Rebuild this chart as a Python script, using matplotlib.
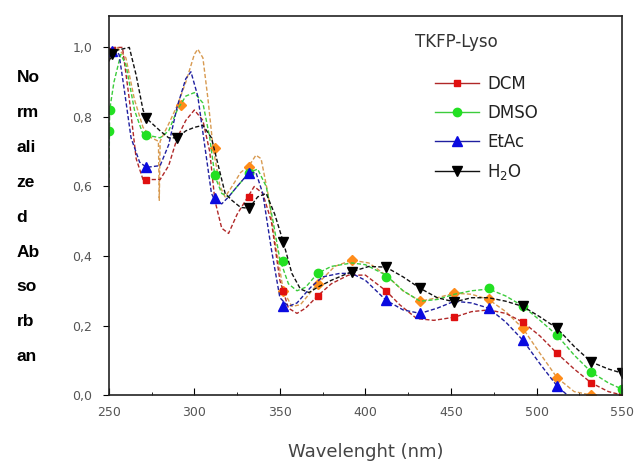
import matplotlib
matplotlib.use("Agg")
import matplotlib.pyplot as plt
from matplotlib.lines import Line2D
from matplotlib.ticker import MultipleLocator, FuncFormatter

# ---- spectra (wavelength nm, normalized absorbance) ----
dcm_x = [250, 253, 258, 262, 266, 270, 280, 285, 290, 295, 300, 305, 309, 312, 316, 320, 325, 330, 335,
         340, 345, 350, 355, 360, 365, 372, 380, 390, 400, 412, 420, 430, 440, 452, 462, 472, 482, 492,
         502, 512, 522, 532, 542, 550]
dcm_y = [0.96, 1.0, 1.0, 0.85, 0.68, 0.62, 0.62, 0.66, 0.74, 0.79, 0.82, 0.79, 0.70, 0.56, 0.48, 0.465,
         0.52, 0.56, 0.60, 0.58, 0.50, 0.33, 0.25, 0.235, 0.25, 0.285, 0.32, 0.345, 0.345, 0.30, 0.26,
         0.22, 0.215, 0.224, 0.24, 0.245, 0.235, 0.21, 0.17, 0.12, 0.075, 0.035, 0.01, 0.0]

dmso_x = [250, 250.5, 253, 257, 260, 265, 270, 280, 285, 290, 295, 300, 305, 309, 312, 316, 320, 325, 332,
          337, 342, 346, 350, 355, 360, 365, 372, 380, 392, 400, 412, 422, 432, 442, 452, 462, 472, 482,
          492, 502, 512, 522, 532, 542, 550]
dmso_y = [0.57, 0.82, 0.90, 0.98, 0.95, 0.82, 0.75, 0.74, 0.76, 0.82, 0.86, 0.87, 0.84, 0.74, 0.63, 0.58,
          0.57, 0.60, 0.64, 0.65, 0.60, 0.50, 0.39, 0.32, 0.30, 0.31, 0.35, 0.37, 0.38, 0.375, 0.345, 0.30,
          0.27, 0.275, 0.29, 0.30, 0.305, 0.285, 0.256, 0.215, 0.172, 0.115, 0.066, 0.035, 0.017]

etac_x = [250, 252, 256, 259, 263, 268, 272, 280, 285, 290, 295, 298, 302, 306, 310, 312, 316, 320, 325,
          332, 336, 340, 345, 350, 355, 360, 368, 375, 385, 392, 400, 412, 422, 432, 442, 452, 462, 472,
          482, 492, 502, 512, 518]
etac_y = [0.97, 1.0, 0.98, 0.88, 0.74, 0.67, 0.655, 0.66, 0.72, 0.83, 0.91, 0.93, 0.86, 0.72, 0.58, 0.56,
          0.55, 0.57, 0.60, 0.64, 0.64, 0.58, 0.42, 0.28, 0.255, 0.265, 0.31, 0.34, 0.35, 0.35, 0.33, 0.273,
          0.245, 0.235, 0.25, 0.27, 0.265, 0.25, 0.21, 0.158, 0.09, 0.026, 0.0]

h2o_x = [250, 253, 262, 266, 270, 272, 280, 285, 290, 295, 300, 305, 310, 314, 318, 322, 327, 332, 337,
         342, 347, 352, 357, 362, 367, 372, 380, 392, 402, 412, 422, 432, 442, 452, 462, 472, 482, 492,
         502, 512, 522, 532, 542, 550]
h2o_y = [0.96, 0.99, 1.0, 0.92, 0.82, 0.796, 0.76, 0.74, 0.74, 0.76, 0.77, 0.776, 0.74, 0.66, 0.58, 0.56,
         0.54, 0.537, 0.57, 0.58, 0.52, 0.44, 0.35, 0.305, 0.295, 0.31, 0.33, 0.355, 0.37, 0.368, 0.34,
         0.307, 0.28, 0.268, 0.28, 0.28, 0.27, 0.255, 0.225, 0.192, 0.14, 0.095, 0.075, 0.063]

org_x = [250, 255, 260, 265, 270, 275, 279, 279.5, 280, 285, 290, 295, 300, 302, 305, 308, 311, 315, 318,
         322, 327, 332, 336, 339, 343, 347, 352, 357, 362, 372, 382, 392, 402, 412, 422, 432, 442, 452,
         462, 472, 482, 492, 502, 512, 522, 532]
org_y = [0.97, 1.0, 0.97, 0.85, 0.77, 0.74, 0.73, 0.56, 0.73, 0.78, 0.833, 0.90, 0.98, 0.995, 0.97, 0.85,
         0.71, 0.60, 0.57, 0.60, 0.64, 0.66, 0.69, 0.68, 0.58, 0.45, 0.30, 0.255, 0.26, 0.32, 0.37, 0.388,
         0.38, 0.345, 0.30, 0.27, 0.28, 0.293, 0.29, 0.275, 0.24, 0.192, 0.12, 0.05, 0.01, 0.0]

# ---- symbol positions ----
dcm_mx = [252, 272, 332, 352, 372, 412, 452, 492, 512, 532, 550]
dcm_my = [0.99, 0.62, 0.57, 0.30, 0.285, 0.30, 0.224, 0.21, 0.12, 0.035, 0.0]
dmso_mx = [250, 250.5, 272, 312, 332, 352, 372, 412, 472, 492, 512, 532, 550]
dmso_my = [0.76, 0.82, 0.747, 0.632, 0.64, 0.385, 0.35, 0.34, 0.307, 0.256, 0.172, 0.066, 0.017]
etac_mx = [252, 272, 312, 332, 352, 412, 432, 472, 492, 512]
etac_my = [0.99, 0.655, 0.566, 0.64, 0.256, 0.273, 0.235, 0.25, 0.158, 0.026]
h2o_mx = [252, 272, 290, 332, 352, 392, 412, 432, 452, 492, 512, 532, 550]
h2o_my = [0.98, 0.796, 0.74, 0.537, 0.44, 0.355, 0.368, 0.307, 0.268, 0.255, 0.192, 0.095, 0.063]
org_mx = [292, 312, 332, 352, 372, 392, 432, 452, 472, 492, 512, 532]
org_my = [0.833, 0.71, 0.655, 0.30, 0.32, 0.388, 0.27, 0.293, 0.275, 0.192, 0.05, 0.0]

fig = plt.figure(figsize=(6.4, 4.61), dpi=100)
ax = fig.add_axes([0.170, 0.143, 0.802, 0.822])

dash = (0, (3, 1.6))
series = [
    (org_x, org_y, org_mx, org_my, "#d89a50", "#ff8c1a", "D", 5, None),
    (dcm_x, dcm_y, dcm_mx, dcm_my, "#b02828", "#e01010", "s", 5, "DCM"),
    (dmso_x, dmso_y, dmso_mx, dmso_my, "#3ccc3c", "#22e022", "o", 6, "DMSO"),
    (etac_x, etac_y, etac_mx, etac_my, "#2020a0", "#0a0ae0", "^", 7, "EtAc"),
    (h2o_x, h2o_y, h2o_mx, h2o_my, "#111111", "#000000", "v", 7, "H$_2$O"),
]
handles = []
for lx, ly, mx, my, lc, mc, mk, ms, name in series:
    ax.plot(lx, ly, color=lc, lw=1.0, linestyle=dash)
    ax.plot(mx, my, linestyle="none", marker=mk, color=mc, markersize=ms)
    if name:
        handles.append(Line2D([], [], color=lc, lw=1.0, marker=mk, markerfacecolor=mc,
                              markeredgecolor=mc, markersize=ms, label=name))

ax.set_xlim(250, 550)
ax.set_ylim(0, 1.09)
ax.xaxis.set_major_locator(MultipleLocator(50))
ax.xaxis.set_minor_locator(MultipleLocator(25))
ax.yaxis.set_major_locator(MultipleLocator(0.2))
ax.yaxis.set_major_formatter(FuncFormatter(lambda v, p: f"{v:.1f}".replace(".", ",")))
ax.tick_params(axis="x", which="major", direction="in", length=5, pad=8, labelsize=9, labelcolor="#555555")
ax.tick_params(axis="x", which="minor", direction="in", length=2.5)
ax.tick_params(axis="y", direction="out", length=4, pad=8, labelsize=9, labelcolor="#555555")
for s in ax.spines.values():
    s.set_linewidth(1.2)
    s.set_color("#222222")

ax.set_xlabel("Wavelenght (nm)", fontsize=13, color="#444444", labelpad=17)

fig.text(0.026, 0.529, "No\nrm\nali\nze\nd\nAb\nso\nrb\nan", fontsize=12.5, fontweight="bold",
         family="Liberation Sans", ha="left", va="center", linespacing=2.66)

ax.text(0.596, 0.931, "TKFP-Lyso", transform=ax.transAxes, fontsize=12, color="#333333",
        ha="left", va="center")
leg = ax.legend(handles=handles, loc="upper left", bbox_to_anchor=(0.607, 0.885),
                frameon=False, fontsize=12, handlelength=2.6,
                labelspacing=0.66, handletextpad=0.5)
for t in leg.get_texts():
    t.set_color("#222222")

fig.savefig("out.png", dpi=100)
